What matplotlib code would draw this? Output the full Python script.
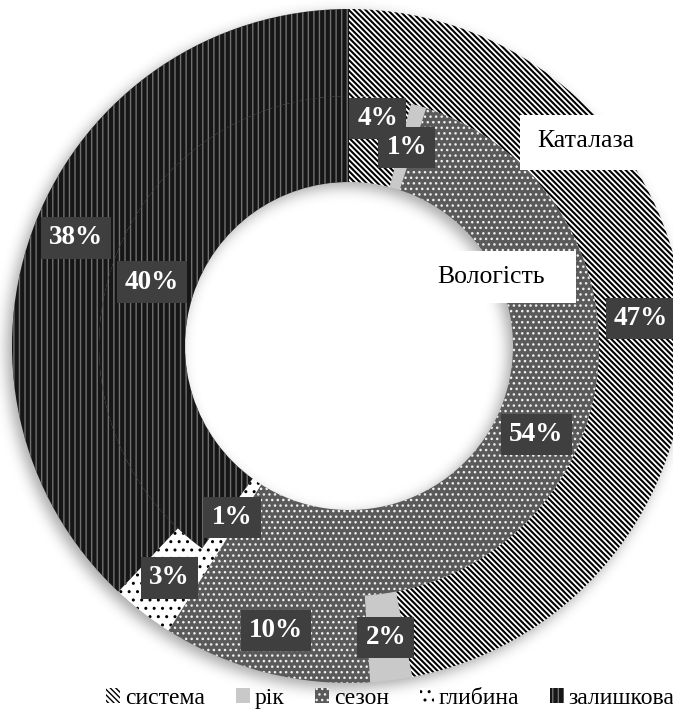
import numpy as np
import matplotlib
matplotlib.use('Agg')
import matplotlib.pyplot as plt
from matplotlib.patches import Patch, Rectangle

plt.rcParams['font.family'] = ['Liberation Serif', 'DejaVu Serif']
plt.rcParams['hatch.linewidth'] = 1.0

# Shares of variance (%), slices go clockwise from 12 o'clock
categories = ['система', 'рік', 'сезон', 'глибина', 'залишкова']
katalaza = [47, 2, 10, 3, 38]     # outer ring
vologist = [4, 1, 54, 1, 40]      # inner ring
ring_names = ['Каталаза', 'Вологість']

# fill pattern for every category: face, hatch, hatch colour, hatch width
faces = ['white', '#c9c9c9', '#5a5a5a', 'white', '#161616']
hatches = ['\\' * 6, None, '...', '..', '|||']
hatch_cols = ['black', '#c9c9c9', '#f0f0f0', 'black', '#707070']
hatch_lws = [1.5, 1.0, 1.0, 1.0, 1.0]

W, H = 673, 713
cx, cy = 349, 367
r_out, r_mid, r_hole = 337, 250, 164

fig = plt.figure(figsize=(W / 100, H / 100), dpi=100)
ax = fig.add_axes([0, 0, 1, 1])

# soft drop shadow under the doughnut
yy, xx = np.mgrid[0:H, 0:W] + 0.5
rr = np.hypot(xx - (cx - 5), yy - (cy - 5))
mask = ((rr <= r_out) & (rr >= r_hole)).astype(float)
k = np.exp(-0.5 * (np.arange(-24, 25) / 7.0) ** 2)
k /= k.sum()
blur = np.apply_along_axis(lambda v: np.convolve(v, k, mode='same'), 0, mask)
blur = np.apply_along_axis(lambda v: np.convolve(v, k, mode='same'), 1, blur)
shadow = np.zeros((H, W, 4))
shadow[..., 3] = 0.35 * blur
ax.imshow(shadow, extent=(0, W, 0, H), origin='lower', zorder=0,
          interpolation='bilinear')


def style(p, hc, hlw):
    p.set_edgecolor(hc)
    p.set_linewidth(0)
    if hasattr(p, 'set_hatch_linewidth'):
        p.set_hatch_linewidth(hlw)


def ring(values, radius, width):
    wedges, _ = ax.pie(values, radius=radius, center=(cx, cy), startangle=90,
                       counterclock=False, colors=faces, hatch=hatches,
                       wedgeprops=dict(width=width, linewidth=0))
    for w, hc, hlw in zip(wedges, hatch_cols, hatch_lws):
        style(w, hc, hlw)
        w.set_zorder(2)
    return wedges


outer = ring(katalaza, r_out, r_out - r_mid)
inner = ring(vologist, r_mid, r_mid - r_hole)


def add_labels(wedges, values, radius, nudge=None):
    for i, (w, v) in enumerate(zip(wedges, values)):
        r = radius + (nudge or {}).get(i, 0)
        ang = np.deg2rad((w.theta1 + w.theta2) / 2)
        ax.text(cx + r * np.cos(ang), cy + r * np.sin(ang), f'{v}%',
                ha='center', va='center', color='white', fontsize=19.5,
                fontweight='bold', zorder=5,
                bbox=dict(boxstyle='square,pad=0.3', fc='#3f3f3f', ec='none'))


add_labels(outer, katalaza, (r_out + r_mid) / 2)
add_labels(inner, vologist, (r_mid + r_hole) / 2, nudge={0: 22})

# series name boxes
ax.add_patch(Rectangle((520, 543), 170, 55, fc='white', ec='none', zorder=4))
ax.text(586, 572, ring_names[0], ha='center', va='center', fontsize=18.5,
        zorder=5)
ax.add_patch(Rectangle((400, 410), 176, 52, fc='white', ec='none', zorder=4))
ax.text(491, 436, ring_names[1], ha='center', va='center', fontsize=18.5,
        zorder=5)

ax.set_xlim(0, W)
ax.set_ylim(0, H)
ax.set_aspect('equal')
ax.axis('off')

# Legend
handles = []
for f, h, hc, hlw in zip(faces, hatches, hatch_cols, hatch_lws):
    p = Patch(fc=f, hatch=h)
    style(p, hc, hlw)
    handles.append(p)
fig.legend(handles, categories, loc='center', bbox_to_anchor=(0.58, 0.02),
           ncol=5, frameon=False, fontsize=17, handlelength=0.6,
           handleheight=0.6, handletextpad=0.2, columnspacing=1.3)

plt.savefig('out.png', dpi=100)
